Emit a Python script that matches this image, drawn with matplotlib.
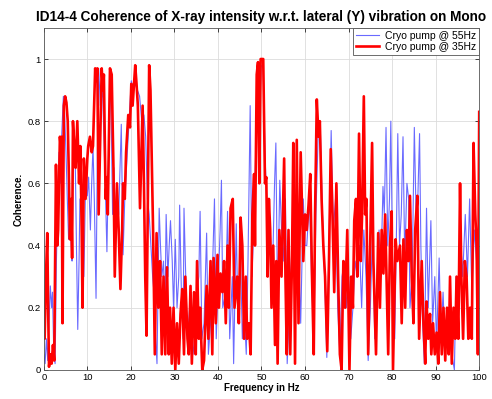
import matplotlib
matplotlib.use("Agg")
import matplotlib.pyplot as plt

plt.rcParams['font.family'] = ['Liberation Sans', 'DejaVu Sans']

# Cryo pump @ 35Hz (red)
red_hz = [0.0, 0.2, 0.5, 0.8, 1.0, 1.2, 1.5, 1.8, 2.1, 2.4, 2.8, 3.1, 3.3, 3.7, 4.0, 4.1, 4.3, 4.6, 4.9, 5.2,
          5.5, 5.8, 6.0, 6.3, 6.5, 6.7, 7.0, 7.3, 7.7, 8.1, 8.4, 8.7, 8.9, 9.2, 9.6, 10.0, 10.2, 10.6, 11.0, 11.3,
          11.8, 12.1, 12.3, 12.6, 12.9, 13.3, 13.6, 13.8, 14.2, 14.5, 14.7, 15.2, 15.6, 16.0, 16.3, 16.8, 17.2, 17.6, 18.0, 18.2,
          18.6, 18.9, 19.4, 19.8, 20.1, 20.4, 21.0, 21.3, 21.6, 22.1, 22.7, 23.0, 23.3, 23.6, 24.0, 24.2, 24.5, 25.1, 25.5, 25.9,
          26.3, 26.7, 27.1, 27.5, 27.9, 28.3, 28.7, 29.0, 29.4, 29.8, 30.2, 30.6, 31.0, 31.4, 31.8, 32.2, 32.5, 33.0, 33.3, 33.7,
          34.0, 34.5, 34.9, 35.2, 35.6, 35.9, 36.4, 36.8, 37.4, 37.8, 38.3, 38.7, 39.0, 39.5, 39.9, 40.2, 40.6, 41.0, 41.4, 41.8,
          42.2, 42.5, 42.9, 43.4, 43.8, 44.4, 44.8, 45.2, 45.6, 46.0, 46.4, 46.7, 47.1, 47.5, 47.9, 48.3, 48.5, 48.9, 49.2, 49.5,
          49.8, 50.4, 50.8, 51.1, 51.4, 51.7, 52.0, 52.3, 52.7, 53.1, 53.4, 53.7, 54.1, 54.6, 55.2, 55.5, 55.8, 56.2, 56.6, 57.0,
          57.3, 57.7, 58.1, 58.5, 59.0, 59.6, 60.0, 60.4, 60.8, 61.2, 61.6, 62.0, 62.3, 62.7, 63.1, 63.4, 63.8, 64.2, 64.6, 65.1,
          65.5, 65.9, 66.3, 66.7, 67.2, 67.6, 68.0, 68.4, 68.8, 69.2, 69.7, 70.2, 70.6, 71.0, 71.3, 71.7, 72.0, 72.4, 72.8, 73.1,
          73.5, 73.8, 74.1, 74.5, 74.9, 75.4, 75.7, 76.3, 76.8, 77.2, 77.6, 78.0, 78.4, 78.8, 79.1, 79.5, 79.9, 80.2, 80.8, 81.2,
          81.8, 82.2, 82.6, 83.0, 83.4, 83.8, 84.1, 84.5, 84.9, 85.3, 85.8, 86.2, 86.8, 87.2, 87.6, 87.9, 88.3, 88.7, 89.0, 89.4,
          89.8, 90.2, 90.6, 91.0, 91.4, 91.8, 92.2, 92.6, 93.0, 93.3, 93.7, 94.1, 94.5, 94.8, 95.2, 95.6, 95.9, 96.3, 96.7, 97.1,
          97.5, 97.9, 98.3, 98.7, 99.1, 99.4, 99.7, 100.0]
red_coh = [0.12, 0.10, 0.30, 0.44, 0.20, 0.01, 0.05, 0.02, 0.08, 0.03, 0.66, 0.40, 0.45, 0.75, 0.70, 0.75, 0.15, 0.85, 0.88, 0.86,
           0.80, 0.60, 0.42, 0.55, 0.36, 0.80, 0.72, 0.65, 0.80, 0.60, 0.72, 0.45, 0.20, 0.68, 0.55, 0.68, 0.72, 0.75, 0.70, 0.72,
           0.97, 0.93, 0.97, 0.50, 0.70, 0.97, 0.90, 0.95, 0.55, 0.62, 0.50, 0.97, 0.95, 0.65, 0.30, 0.60, 0.45, 0.26, 0.45, 0.60,
           0.55, 0.70, 0.82, 0.78, 0.92, 0.85, 0.98, 0.92, 0.85, 0.52, 0.85, 0.60, 0.30, 0.11, 0.70, 0.98, 0.90, 0.45, 0.05, 0.44,
           0.20, 0.35, 0.05, 0.30, 0.05, 0.33, 0.05, 0.20, 0.02, 0.20, 0.00, 0.15, 0.02, 0.18, 0.26, 0.05, 0.30, 0.10, 0.05, 0.27,
           0.02, 0.25, 0.05, 0.35, 0.10, 0.20, 0.00, 0.03, 0.27, 0.10, 0.35, 0.05, 0.36, 0.15, 0.37, 0.20, 0.31, 0.25, 0.35, 0.15,
           0.40, 0.20, 0.52, 0.55, 0.20, 0.30, 0.15, 0.49, 0.40, 0.10, 0.30, 0.10, 0.15, 0.05, 0.50, 0.63, 0.40, 0.95, 0.99, 0.60,
           1.00, 1.00, 0.60, 0.62, 0.30, 0.55, 0.45, 0.20, 0.40, 0.08, 0.35, 0.02, 0.45, 0.30, 0.68, 0.30, 0.05, 0.45, 0.05, 0.35,
           0.73, 0.02, 0.74, 0.15, 0.70, 0.35, 0.50, 0.45, 0.53, 0.63, 0.30, 0.05, 0.50, 0.87, 0.75, 0.80, 0.55, 0.40, 0.30, 0.06,
           0.35, 0.71, 0.50, 0.25, 0.60, 0.30, 0.05, 0.00, 0.35, 0.20, 0.45, 0.00, 0.30, 0.20, 0.48, 0.55, 0.30, 0.76, 0.35, 0.50,
           0.88, 0.50, 0.55, 0.05, 0.35, 0.73, 0.35, 0.05, 0.44, 0.20, 0.45, 0.31, 0.50, 0.25, 0.05, 0.40, 0.51, 0.00, 0.42, 0.35,
           0.40, 0.15, 0.42, 0.20, 0.45, 0.35, 0.56, 0.30, 0.15, 0.45, 0.56, 0.10, 0.35, 0.15, 0.02, 0.22, 0.10, 0.18, 0.05, 0.15,
           0.05, 0.12, 0.02, 0.25, 0.05, 0.20, 0.03, 0.20, 0.05, 0.30, 0.02, 0.20, 0.10, 0.30, 0.10, 0.60, 0.30, 0.10, 0.35, 0.30,
           0.10, 0.20, 0.10, 0.73, 0.50, 0.40, 0.05, 0.83]

# Cryo pump @ 55Hz (blue)
blue_hz = [0.0, 0.3, 0.6, 0.9, 1.2, 1.5, 1.8, 2.0, 2.3, 2.6, 2.9, 3.2, 3.5, 3.8, 4.1, 4.5, 4.8, 5.1, 5.4, 5.7,
           6.0, 6.3, 6.5, 6.8, 7.2, 7.5, 7.8, 8.1, 8.3, 8.7, 9.0, 9.2, 9.6, 10.0, 10.3, 10.7, 11.0, 11.3, 11.6, 12.0,
           12.3, 12.6, 13.0, 13.5, 13.9, 14.2, 14.5, 14.9, 15.2, 15.5, 15.8, 16.1, 16.4, 16.8, 17.2, 17.5, 17.8, 18.2, 18.6, 19.0,
           19.4, 19.8, 20.1, 20.5, 21.0, 21.5, 22.0, 22.5, 23.0, 23.4, 23.8, 24.2, 24.6, 25.0, 25.3, 25.7, 26.0, 26.5, 26.8, 27.1,
           27.5, 27.8, 28.1, 28.5, 28.8, 29.1, 29.5, 29.8, 30.2, 30.6, 31.0, 31.2, 31.6, 32.0, 32.2, 32.6, 33.0, 33.4, 33.7, 34.1,
           34.5, 34.9, 35.2, 35.6, 35.9, 36.3, 36.8, 37.4, 37.8, 38.3, 38.7, 39.2, 39.6, 40.1, 40.5, 40.8, 41.1, 41.8, 42.2, 42.7,
           43.3, 43.6, 44.2, 44.6, 45.2, 45.6, 46.0, 46.5, 46.9, 47.4, 47.8, 48.2, 48.5, 49.0, 49.5, 49.9, 50.4, 50.8, 51.2, 51.6,
           52.0, 52.5, 53.0, 53.3, 53.7, 54.2, 54.6, 55.0, 55.5, 55.9, 56.3, 57.0, 57.4, 57.7, 58.2, 58.6, 59.0, 59.6, 60.0, 60.4,
           61.0, 61.5, 62.0, 62.5, 63.0, 63.5, 64.0, 64.5, 65.0, 65.5, 66.0, 66.5, 67.0, 67.5, 68.0, 68.5, 69.0, 69.5, 70.0, 70.5,
           71.0, 71.5, 72.0, 72.5, 73.0, 73.5, 74.0, 74.5, 75.0, 75.5, 76.0, 76.5, 77.0, 77.4, 77.9, 78.2, 78.6, 79.0, 79.4, 79.7,
           80.1, 80.6, 81.0, 81.3, 81.7, 82.1, 82.5, 82.9, 83.4, 83.8, 84.1, 84.6, 85.1, 85.5, 85.9, 86.3, 86.6, 87.0, 87.4, 87.9,
           88.3, 88.9, 89.3, 89.8, 90.2, 90.8, 91.2, 91.7, 92.2, 92.7, 93.2, 93.7, 94.3, 94.7, 95.2, 95.6, 96.2, 96.8, 97.3, 97.8,
           98.3, 98.9, 99.4, 99.8, 100.0]
blue_coh = [0.05, 0.02, 0.10, 0.03, 0.15, 0.27, 0.20, 0.25, 0.05, 0.02, 0.35, 0.55, 0.70, 0.60, 0.75, 0.88, 0.82, 0.70, 0.55, 0.42,
            0.50, 0.40, 0.35, 0.75, 0.70, 0.40, 0.13, 0.35, 0.55, 0.50, 0.40, 0.30, 0.60, 0.56, 0.62, 0.45, 0.60, 0.72, 0.55, 0.23,
            0.70, 0.97, 0.85, 0.90, 0.70, 0.55, 0.38, 0.70, 0.95, 0.80, 0.50, 0.65, 0.50, 0.55, 0.50, 0.65, 0.79, 0.37, 0.55, 0.65,
            0.75, 0.85, 0.93, 0.90, 0.92, 0.90, 0.88, 0.80, 0.82, 0.75, 0.55, 0.50, 0.40, 0.30, 0.25, 0.10, 0.02, 0.52, 0.40, 0.30,
            0.35, 0.15, 0.50, 0.30, 0.40, 0.48, 0.35, 0.20, 0.42, 0.20, 0.30, 0.53, 0.25, 0.10, 0.52, 0.30, 0.10, 0.18, 0.25, 0.10,
            0.05, 0.15, 0.25, 0.30, 0.51, 0.10, 0.15, 0.44, 0.05, 0.15, 0.30, 0.55, 0.10, 0.30, 0.45, 0.61, 0.20, 0.25, 0.51, 0.10,
            0.30, 0.02, 0.47, 0.15, 0.35, 0.10, 0.20, 0.05, 0.35, 0.85, 0.30, 0.45, 0.60, 0.90, 0.75, 0.98, 0.97, 0.69, 0.55, 0.40,
            0.45, 0.30, 0.60, 0.73, 0.20, 0.61, 0.45, 0.35, 0.55, 0.02, 0.15, 0.40, 0.60, 0.20, 0.50, 0.35, 0.15, 0.55, 0.40, 0.40,
            0.55, 0.30, 0.10, 0.50, 0.75, 0.78, 0.50, 0.30, 0.04, 0.40, 0.77, 0.45, 0.55, 0.20, 0.05, 0.30, 0.35, 0.20, 0.30, 0.10,
            0.20, 0.35, 0.30, 0.40, 0.20, 0.45, 0.30, 0.03, 0.20, 0.45, 0.10, 0.30, 0.45, 0.30, 0.59, 0.50, 0.78, 0.40, 0.55, 0.80,
            0.35, 0.10, 0.45, 0.76, 0.40, 0.50, 0.75, 0.35, 0.60, 0.55, 0.20, 0.30, 0.78, 0.50, 0.55, 0.76, 0.40, 0.15, 0.02, 0.52,
            0.20, 0.48, 0.15, 0.30, 0.08, 0.36, 0.10, 0.25, 0.05, 0.20, 0.10, 0.05, 0.00, 0.30, 0.15, 0.45, 0.30, 0.50, 0.30, 0.55,
            0.25, 0.45, 0.35, 0.25, 0.40]

x_ticks = [0, 10, 20, 30, 40, 50, 60, 70, 80, 90, 100]
y_ticks = [0, 0.2, 0.4, 0.6, 0.8, 1.0]
y_tick_labels = ['0', '0.2', '0.4', '0.6', '0.8', '1']

fig = plt.figure(figsize=(4.92, 3.99), dpi=100)
ax = fig.add_axes([0.089, 0.073, 0.885, 0.857])

ax.plot(blue_hz, blue_coh, color='#6a6aff', lw=0.8, label='Cryo pump @ 55Hz')
ax.plot(red_hz, red_coh, color='#ff0000', lw=1.9, label='Cryo pump @ 35Hz')

ax.set_xlim(0, 100)
ax.set_ylim(0, 1.1)
ax.set_xticks(x_ticks)
ax.set_yticks(y_ticks)
ax.set_yticklabels(y_tick_labels)
ax.grid(True, color='#dcdcdc', lw=0.6)
ax.set_axisbelow(True)
ax.tick_params(direction='in', top=True, right=True, labelsize=6.8, length=3, width=0.5, pad=2)
for s in ax.spines.values():
    s.set_linewidth(0.6)
    s.set_color('#555555')

ax.set_title('ID14-4 Coherence of X-ray intensity w.r.t. lateral (Y) vibration on Mono',
             fontsize=9.8, fontweight='bold', pad=5)
ax.set_xlabel('Frequency in Hz', fontsize=7, fontweight='bold', labelpad=1)
ax.set_ylabel('Coherence.', fontsize=7, fontweight='bold', labelpad=3)

leg = ax.legend(loc='upper right', fontsize=7.5, borderaxespad=0, fancybox=False,
                framealpha=1, handlelength=2.2, borderpad=0.3, labelspacing=0.05,
                handletextpad=0.6)
leg.get_frame().set_edgecolor('#555555')
leg.get_frame().set_linewidth(0.6)

fig.savefig('out.png', dpi=100)
